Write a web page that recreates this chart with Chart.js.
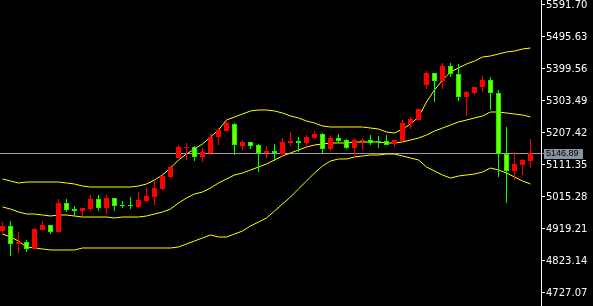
<!DOCTYPE html>
<html><head><meta charset="utf-8">
<script src="https://cdn.jsdelivr.net/npm/chart.js@4/dist/chart.umd.min.js"></script>
<style>html,body{margin:0;padding:0;background:#000;overflow:hidden}canvas{display:block;background:#000}</style>
</head><body>
<canvas id="c" width="593" height="306"></canvas>
<script>
// ---- data ----
const openP = [4913.2,4928.2,4874.2,4880.2,4859.2,4916.2,4931.2,4910.2,4997.3,4979.2,4973.2,4979.2,5009.3,4982.2,5012.3,4991.2,4991.2,4985.2,5003.3,5015.3,5039.3,5075.3,5132.4,5162.4,5165.4,5135.4,5147.4,5195.4,5213.4,5234.4,5168.4,5180.4,5171.4,5147.4,5153.4,5144.4,5177.4,5183.4,5177.4,5192.4,5204.4,5159.4,5192.4,5186.4,5162.4,5183.4,5186.4,5183.4,5183.4,5174.4,5183.4,5234.4,5246.4,5351.5,5387.5,5363.5,5408.6,5384.5,5315.5,5327.5,5345.5,5366.5,5327.5,5144.4,5093.3,5111.3,5123.4];
const highP = [4940.2,4943.2,4910.2,4886.2,4922.2,4943.2,4931.2,5009.3,5009.3,4988.2,4982.2,5021.3,5021.3,5021.3,5012.3,5003.3,5015.3,5030.3,5042.3,5066.3,5087.3,5108.3,5171.4,5177.4,5168.4,5162.4,5204.4,5222.4,5249.5,5237.4,5186.4,5180.4,5174.4,5168.4,5174.4,5192.4,5210.4,5195.4,5201.4,5213.4,5207.4,5198.4,5204.4,5189.4,5192.4,5192.4,5201.4,5198.4,5201.4,5186.4,5246.4,5255.5,5279.5,5393.6,5387.5,5417.6,5417.6,5414.6,5333.5,5345.5,5378.5,5375.5,5336.5,5225.4,5150.4,5129.4,5189.4];
const lowP = [4901.2,4838.1,4847.1,4850.2,4859.2,4916.2,4904.2,4910.2,4970.2,4958.2,4958.2,4973.2,4973.2,4964.2,4973.2,4982.2,4979.2,4982.2,5000.3,4991.2,5036.3,5072.3,5132.4,5126.4,5123.4,5120.3,5141.4,5171.4,5213.4,5141.4,5153.4,5159.4,5090.3,5132.4,5123.4,5135.4,5168.4,5150.4,5159.4,5189.4,5147.4,5153.4,5177.4,5159.4,5132.4,5156.4,5171.4,5162.4,5171.4,5165.4,5183.4,5219.4,5246.4,5339.5,5300.5,5339.5,5375.5,5303.5,5258.5,5321.5,5330.5,5276.5,5075.3,4997.3,5066.3,5081.3,5102.3];
const closeP = [4928.2,4874.2,4880.2,4859.2,4919.2,4931.2,4910.2,4997.3,4976.2,4973.2,4982.2,5009.3,4982.2,5012.3,4988.2,4988.2,4988.2,5006.3,5018.3,5042.3,5078.3,5105.3,5165.4,5165.4,5135.4,5150.4,5195.4,5216.4,5237.4,5171.4,5180.4,5168.4,5147.4,5153.4,5147.4,5180.4,5183.4,5177.4,5195.4,5204.4,5159.4,5192.4,5183.4,5162.4,5186.4,5186.4,5177.4,5180.4,5171.4,5186.4,5237.4,5249.5,5279.5,5387.5,5363.5,5408.6,5384.5,5315.5,5330.5,5345.5,5366.5,5327.5,5144.4,5093.3,5114.4,5126.4,5146.89];
const upperBand = [5069.3,5063.3,5057.3,5060.3,5060.3,5060.3,5060.3,5060.3,5057.3,5054.3,5048.3,5045.3,5045.3,5045.3,5045.3,5045.3,5045.3,5048.3,5054.3,5066.3,5081.3,5102.3,5126.4,5144.4,5159.4,5174.4,5195.4,5216.4,5246.4,5255.5,5264.5,5273.5,5276.5,5276.5,5273.5,5267.5,5258.5,5252.5,5243.4,5237.4,5228.4,5225.4,5225.4,5225.4,5225.4,5225.4,5222.4,5219.4,5210.4,5207.4,5219.4,5234.4,5255.5,5300.5,5336.5,5366.5,5390.5,5402.6,5414.6,5423.6,5435.6,5438.6,5444.6,5450.6,5453.6,5459.6,5462.6];
const middleBand = [4985.2,4979.2,4970.2,4964.2,4964.2,4961.2,4958.2,4961.2,4961.2,4958.2,4955.2,4955.2,4955.2,4955.2,4952.2,4955.2,4955.2,4955.2,4958.2,4964.2,4970.2,4979.2,4997.3,5012.3,5024.3,5030.3,5042.3,5057.3,5069.3,5081.3,5087.3,5096.3,5105.3,5114.4,5126.4,5138.4,5147.4,5156.4,5165.4,5171.4,5174.4,5177.4,5177.4,5177.4,5180.4,5180.4,5180.4,5180.4,5177.4,5177.4,5180.4,5186.4,5192.4,5201.4,5213.4,5222.4,5231.4,5240.4,5246.4,5252.5,5258.5,5270.5,5270.5,5267.5,5264.5,5261.5,5255.5];
const lowerBand = [4904.2,4895.2,4883.2,4865.2,4862.2,4859.2,4856.2,4856.2,4856.2,4856.2,4862.2,4862.2,4862.2,4862.2,4862.2,4862.2,4862.2,4862.2,4862.2,4862.2,4862.2,4862.2,4865.2,4874.2,4883.2,4892.2,4901.2,4895.2,4895.2,4904.2,4913.2,4928.2,4940.2,4952.2,4973.2,4994.3,5015.3,5039.3,5063.3,5087.3,5108.3,5123.4,5129.4,5129.4,5135.4,5138.4,5141.4,5141.4,5144.4,5144.4,5138.4,5132.4,5126.4,5105.3,5093.3,5081.3,5072.3,5078.3,5081.3,5084.3,5090.3,5102.3,5096.3,5087.3,5075.3,5063.3,5054.3];
const priceTicks = [4727.07,4823.14,4919.21,5015.28,5111.35,5207.42,5303.49,5399.56,5495.63,5591.70];
const bars = openP.map((_, i) => i);

// ---- styles ----
const UP = '#ff0000', DOWN_FILL = '#7cff00', DOWN_EDGE = '#00ff00', BAND = '#ffff00';
const isUp = i => closeP[i] >= openP[i];
const lastClose = closeP[closeP.length - 1];

const priceMarker = {
  id: 'priceMarker',
  beforeDatasetsDraw(chart) {
    const {ctx, chartArea, scales: {y}} = chart;
    const py = Math.round(y.getPixelForValue(lastClose)) + 0.5;
    ctx.save();
    ctx.strokeStyle = '#a0a0a0';
    ctx.lineWidth = 1;
    ctx.beginPath();
    ctx.moveTo(chartArea.left, py);
    ctx.lineTo(chartArea.right, py);
    ctx.stroke();
    ctx.restore();
  },
  afterDraw(chart) {
    const {ctx, chartArea, scales: {y}} = chart;
    const row = Math.round(y.getPixelForValue(lastClose));
    ctx.save();
    ctx.strokeStyle = '#a0a0a0';
    ctx.lineWidth = 1;
    ctx.beginPath();
    ctx.moveTo(chartArea.right + 1, row + 0.5);
    ctx.lineTo(chartArea.right + 3, row + 0.5);
    ctx.stroke();
    ctx.fillStyle = '#8a949e';
    ctx.fillRect(chartArea.right + 3, row - 4, 39, 10);
    ctx.fillStyle = '#000000';
    ctx.font = '9px "Liberation Sans"';
    ctx.textBaseline = 'middle';
    ctx.textAlign = 'left';
    ctx.fillText(lastClose.toFixed(2), chartArea.right + 5, row + 1);
    ctx.restore();
  }
};

const lineDs = (arr) => ({
  type: 'line',
  data: bars.map(i => ({x: i, y: arr[i]})),
  borderColor: BAND,
  borderWidth: 1,
  pointRadius: 0,
  tension: 0,
  fill: false,
  order: 5
});

new Chart(document.getElementById('c'), {
  type: 'bar',
  data: {
    datasets: [
      {
        type: 'bar',
        data: bars.map(i => ({x: i, y: [openP[i], closeP[i]]})),
        barThickness: 5,
        grouped: false,
        inflateAmount: 0,
        borderSkipped: false,
        backgroundColor: c => isUp(c.dataIndex) ? UP : DOWN_FILL,
        borderColor: c => isUp(c.dataIndex) ? UP : DOWN_EDGE,
        borderWidth: c => isUp(c.dataIndex) ? 0 : 1,
        order: 1
      },
      {
        type: 'bar',
        data: bars.map(i => ({x: i, y: [lowP[i], highP[i]]})),
        barThickness: 1,
        grouped: false,
        inflateAmount: 0,
        borderWidth: 0,
        backgroundColor: c => isUp(c.dataIndex) ? UP : DOWN_EDGE,
        order: 2
      },
      lineDs(upperBand),
      lineDs(middleBand),
      lineDs(lowerBand)
    ]
  },
  options: {
    responsive: false,
    animation: false,
    devicePixelRatio: 1,
    layout: {padding: 0},
    plugins: {legend: {display: false}, tooltip: {enabled: false}},
    scales: {
      x: {type: 'linear', display: false, min: -0.3125, max: 67.3125, offset: false},
      y: {
        type: 'linear',
        position: 'right',
        min: 4688.04,
        max: 5606.71,
        beginAtZero: false,
        afterBuildTicks: s => { s.ticks = priceTicks.map(v => ({value: v})); },
        afterFit: s => { s.width = 52; s.paddingTop = 0; s.paddingBottom = 0; },
        ticks: {
          color: '#ffffff',
          font: {family: 'DejaVu Sans', size: 10},
          padding: 1,
          autoSkip: false,
          callback: v => Number(v).toFixed(2)
        },
        grid: {drawOnChartArea: false, color: '#ffffff', tickLength: 4},
        border: {color: '#ffffff', width: 1}
      }
    }
  },
  plugins: [priceMarker]
});
</script>
</body></html>
